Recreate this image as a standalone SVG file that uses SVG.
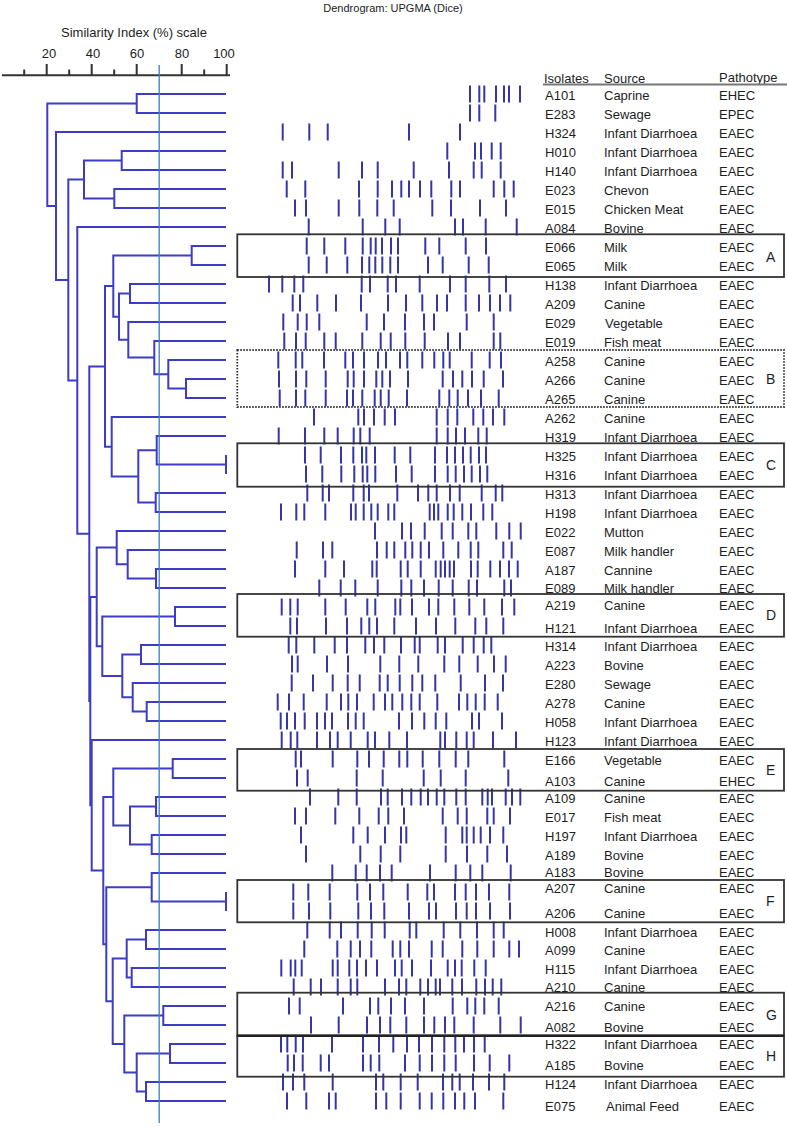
<svg xmlns="http://www.w3.org/2000/svg" width="787" height="1127" viewBox="0 0 787 1127">
<style>
text{font-family:"Liberation Sans",Arial,sans-serif;fill:#1e1e1e}
.t{font-size:13px}
.lb{font-size:14px}
.tr{fill:none;stroke:#3c3cc6;stroke-width:2}
.bd{fill:none;stroke:#3535a8;stroke-width:2}
.ax{fill:none;stroke:#333;stroke-width:2}
.bx{fill:none;stroke:#333;stroke-width:1.8}
</style>
<rect width="787" height="1127" fill="#fff"/>
<text x="393" y="12" font-size="11" text-anchor="middle">Dendrogram: UPGMA (Dice)</text>
<g id="scale">
<text class="t" x="134" y="36.5" text-anchor="middle">Similarity Index (%) scale</text>
<text class="t" x="49" y="58" text-anchor="middle">20</text>
<text class="t" x="93" y="58" text-anchor="middle">40</text>
<text class="t" x="137" y="58" text-anchor="middle">60</text>
<text class="t" x="182" y="58" text-anchor="middle">80</text>
<text class="t" x="224" y="58" text-anchor="middle">100</text>
<path class="ax" d="M2 75.3H230M46.7 64V75M91.7 64V75M136.7 64V75M181.7 64V75M226.7 64V75M24.2 69.5V75M69.2 69.5V75M114.2 69.5V75M204.2 69.5V75"/>
</g>
<g id="connectors">
<path class="tr" d="M226 94H136.7V113H226M226 151H121.7V170H226M226 189H114.3V208H226M121.7 160.5H84V198.5H114.3M226 246H191.7V265H226M226 284H130V303H226M226 379H186V398H226M226 360H168.3V388.5H186M226 341H154.3V374.25H168.3M226 322H128.3V357.6H154.3M130 293.5H119V339.8H128.3M191.7 255.5H113.3V316.7H119"/>
<path class="tr" d="M226 436H156.7V464.5H226M226 455V474M226 493H155.7V512H226M156.7 450.25H138.3V502.5H155.7M226 417H111.7V476.4H138.3M113.3 286.1H105V446.7H111.7"/>
<path class="tr" d="M226 569H156V588H226M226 550H127.7V578.5H156M226 531H116.7V564.25H127.7M226 607H175V626H226M226 645H141V664H226M226 702H146.7V721H226M226 683H132.7V711.5H146.7M141 654.5H122.3V697.25H132.7M175 616.5H102.3V675.9H122.3M116.7 547.6H96.7V646.2H102.3"/>
<path class="tr" d="M226 759H172.7V778H226M226 797H156V816H226M226 835H151.7V854H226M156 806.5H130V844.5H151.7M172.7 768.5H113.3V825.5H130M226 873H151.7V901.5H226M226 892V911M226 930H146V949H226M226 968H131.7V987H226M146 939.5H126.7V977.5H131.7M226 1006H163.3V1025H226M226 1044H170V1063H226M226 1082H146V1101H226M170 1053.5H136.7V1091.5H146M163.3 1015.5H124.3V1072.5H136.7M126.7 958.5H112.7V1044H124.3M151.7 887.25H106.3V1001.25H112.7M113.3 797H103.3V944.25H106.3"/>
<path class="tr" d="M226 740H91.7V870.6H103.3M96.7 596.9H90.3V805.3H91.7M105 366.4H89.3V701.1H90.3M226 227H77.3V533.75H89.3M84 179.5H68.3V380.4H77.3M226 132H56V279.9H68.3M136.7 103.5H47.3V206H56"/>
<path d="M159.2 65V1123" stroke="#3f7cc2" stroke-width="1.3"/>
</g>
<g id="bands">
<path class="bd" transform="translate(0,85.5)" d="M470 0v17M479.3 0v17M484.3 0v17M496 0v17M504 0v17M509 0v17M520 0v17"/>
<path class="bd" transform="translate(0,104.5)" d="M470 0v17M479.3 0v17M495.3 0v17"/>
<path class="bd" transform="translate(0,123.5)" d="M282.7 0v17M309.3 0v17M327.7 0v17M409 0v17M460 0v17"/>
<path class="bd" transform="translate(0,142.5)" d="M447.3 0v17M475 0v17M481 0v17M491.7 0v17M500.7 0v17"/>
<path class="bd" transform="translate(0,161.5)" d="M282.7 0v17M292 0v17M338.7 0v17M362 0v17M377.7 0v17M413.7 0v17M449 0v17M473.7 0v17M481.7 0v17M500.7 0v17"/>
<path class="bd" transform="translate(0,180.5)" d="M286.7 0v17M305.3 0v17M359 0v17M377.7 0v17M392 0v17M401.3 0v17M409 0v17M420 0v17M431.3 0v17M451.3 0v17M460 0v17M493.7 0v17M504.3 0v17M513.7 0v17"/>
<path class="bd" transform="translate(0,199.5)" d="M295 0v17M306 0v17M338.7 0v17M359.3 0v17M377.3 0v17M393.7 0v17M432.3 0v17M451 0v17M480 0v17M506 0v17"/>
<path class="bd" transform="translate(0,218.5)" d="M308.7 0v17M362.7 0v17M385.3 0v17M399.7 0v17M455 0v17M463 0v17M485.7 0v17M516.7 0v17"/>
<path class="bd" transform="translate(0,237.5)" d="M306.7 0v17M324.3 0v17M345.3 0v17M362.7 0v17M370.7 0v17M375.7 0v17M382 0v17M391 0v17M398 0v17M425.3 0v17M439.3 0v17M465.7 0v17M486 0v17"/>
<path class="bd" transform="translate(0,256.5)" d="M308.7 0v17M326.7 0v17M347.3 0v17M362 0v17M369.3 0v17M375.3 0v17M382.3 0v17M390.3 0v17M398 0v17M428 0v17M442.7 0v17M468.7 0v17M488.7 0v17"/>
<path class="bd" transform="translate(0,275.5)" d="M269 0v17M282.3 0v17M294.3 0v17M303.3 0v17M361.7 0v17M370 0v17M387.7 0v17M396 0v17M419.7 0v17M450 0v17M465.7 0v17M489.3 0v17M506 0v17"/>
<path class="bd" transform="translate(0,294.5)" d="M292.7 0v17M300 0v17M317.3 0v17M336 0v17M361 0v17M388 0v17M406 0v17M422.3 0v17M437 0v17M447 0v17M465.7 0v17M479 0v17M490 0v17M500 0v17M510.3 0v17"/>
<path class="bd" transform="translate(0,313.5)" d="M283.3 0v17M297.7 0v17M306.7 0v17M319.3 0v17M366.7 0v17M384 0v17M405 0v17M424 0v17M434 0v17M466.7 0v17M493.7 0v17"/>
<path class="bd" transform="translate(0,332.5)" d="M284.3 0v17M296 0v17M305.7 0v17M324.3 0v17M335.7 0v17M362.3 0v17M380.7 0v17M390.7 0v17M405.3 0v17M424.7 0v17M448 0v17M460 0v17M493.7 0v17M500.3 0v17"/>
<path class="bd" transform="translate(0,351.5)" d="M278.3 0v17M295.7 0v17M302.3 0v17M324 0v17M345.3 0v17M353 0v17M364 0v17M378 0v17M386 0v17M400 0v17M407.3 0v17M422.3 0v17M434.3 0v17M443.3 0v17M449.7 0v17M471.7 0v17M489.7 0v17M501 0v17"/>
<path class="bd" transform="translate(0,370.5)" d="M279 0v17M296 0v17M306.3 0v17M325.7 0v17M347.7 0v17M353.7 0v17M364 0v17M376.3 0v17M382.3 0v17M390 0v17M408 0v17M442.7 0v17M453 0v17M462.3 0v17M472 0v17M483.7 0v17M503 0v17"/>
<path class="bd" transform="translate(0,389.5)" d="M279.7 0v17M296 0v17M305.3 0v17M325.7 0v17M347 0v17M353 0v17M362.3 0v17M374.7 0v17M380.7 0v17M388.7 0v17M407 0v17M439.3 0v17M449.3 0v17M457.7 0v17M468 0v17M481 0v17M498.7 0v17"/>
<path class="bd" transform="translate(0,408.5)" d="M314 0v17M358.3 0v17M364 0v17M374 0v17M384.7 0v17M395 0v17M436.7 0v17M447.7 0v17M457.3 0v17M473.3 0v17M483.3 0v17M493 0v17M504.3 0v17"/>
<path class="bd" transform="translate(0,427.5)" d="M278.7 0v17M305 0v17M324.3 0v17M337.7 0v17M353.7 0v17M360.3 0v17M369.7 0v17M436.7 0v17M447.7 0v17M456 0v17M465 0v17M478.3 0v17M486.7 0v17"/>
<path class="bd" transform="translate(0,446.5)" d="M305 0v17M320.7 0v17M341 0v17M353.3 0v17M362 0v17M366.3 0v17M375 0v17M394.7 0v17M410.3 0v17M435 0v17M447 0v17M455 0v17M463 0v17M470.7 0v17M479 0v17M486 0v17"/>
<path class="bd" transform="translate(0,465.5)" d="M306 0v17M322.3 0v17M341.3 0v17M354.3 0v17M362.7 0v17M367.3 0v17M375.3 0v17M396 0v17M411.7 0v17M435 0v17M447.7 0v17M455.7 0v17M464 0v17M471.7 0v17M480 0v17M487.3 0v17"/>
<path class="bd" transform="translate(0,484.5)" d="M307.3 0v17M322.7 0v17M329 0v17M353.3 0v17M363.7 0v17M369 0v17M397.3 0v17M418 0v17M428.3 0v17M436.7 0v17M450 0v17M459.7 0v17M481.7 0v17M495.7 0v17M502.3 0v17"/>
<path class="bd" transform="translate(0,503.5)" d="M281 0v17M296.3 0v17M304.3 0v17M325.3 0v17M351 0v17M355.7 0v17M363.7 0v17M371.3 0v17M377.7 0v17M388.3 0v17M394.3 0v17M429.7 0v17M434 0v17M438.3 0v17M447.7 0v17M453.7 0v17M462.3 0v17M471 0v17M483.3 0v17M492.3 0v17"/>
<path class="bd" transform="translate(0,522.5)" d="M375 0v17M402 0v17M411 0v17M424.7 0v17M441.7 0v17M452.7 0v17M468.3 0v17M476.3 0v17M496.3 0v17M509.3 0v17M520.7 0v17"/>
<path class="bd" transform="translate(0,541.5)" d="M296.7 0v17M323 0v17M332.3 0v17M377 0v17M386.7 0v17M394.3 0v17M405.3 0v17M412.3 0v17M420.7 0v17M429 0v17M443.3 0v17M458.3 0v17M470.7 0v17M478.3 0v17M503.3 0v17M511.7 0v17"/>
<path class="bd" transform="translate(0,560.5)" d="M295 0v17M325.3 0v17M344 0v17M372.3 0v17M376.7 0v17M400.7 0v17M407.7 0v17M420.7 0v17M435.7 0v17M440.7 0v17M445 0v17M449.7 0v17M454 0v17M471 0v17M477.7 0v17M490.3 0v17M500 0v17M509 0v17M517.7 0v17"/>
<path class="bd" transform="translate(0,579.5)" d="M319.3 0v17M340.7 0v17M355.3 0v17M377.7 0v17M401.3 0v17M411.3 0v17M424 0v17M438.7 0v17M452.7 0v17M468.7 0v17M477 0v17M504.3 0v17M511 0v17"/>
<path class="bd" transform="translate(0,598.5)" d="M281.7 0v17M290.3 0v17M297.7 0v17M325.3 0v17M345.7 0v17M367.3 0v17M375.3 0v17M395.3 0v17M400.3 0v17M412 0v17M429 0v17M438.3 0v17M454.3 0v17M469.3 0v17M484.3 0v17M502 0v17M514.3 0v17"/>
<path class="bd" transform="translate(0,617.5)" d="M290.3 0v17M297 0v17M326 0v17M347 0v17M361.3 0v17M369.3 0v17M377 0v17M394.3 0v17M416 0v17M436 0v17M455.3 0v17M475.3 0v17M486.3 0v17M503.3 0v17"/>
<path class="bd" transform="translate(0,636.5)" d="M288.7 0v17M296.3 0v17M314.3 0v17M334.7 0v17M347 0v17M365.3 0v17M374 0v17M384.3 0v17M401 0v17M414.7 0v17M419.7 0v17M437.7 0v17M445 0v17M462.7 0v17M473.7 0v17M483.7 0v17M491.3 0v17"/>
<path class="bd" transform="translate(0,655.5)" d="M292 0v17M297.7 0v17M327 0v17M348 0v17M380.3 0v17M399.3 0v17M418.3 0v17M444.3 0v17M459.3 0v17M477.7 0v17M494 0v17M505.7 0v17"/>
<path class="bd" transform="translate(0,674.5)" d="M291.7 0v17M313 0v17M332.7 0v17M347.7 0v17M359.7 0v17M379.7 0v17M387.7 0v17M399.7 0v17M412.3 0v17M422.3 0v17M435.3 0v17M460.7 0v17M485 0v17M503 0v17"/>
<path class="bd" transform="translate(0,693.5)" d="M277.7 0v17M289 0v17M303.7 0v17M326.7 0v17M341 0v17M348.3 0v17M357 0v17M373.7 0v17M385 0v17M392.3 0v17M402.3 0v17M411.3 0v17M419.7 0v17M437.3 0v17M459 0v17M467.3 0v17M475.7 0v17M484.7 0v17M497.7 0v17"/>
<path class="bd" transform="translate(0,712.5)" d="M280.7 0v17M287 0v17M295 0v17M304.7 0v17M317 0v17M325 0v17M332 0v17M348 0v17M355.7 0v17M363.7 0v17M399 0v17M412 0v17M424.3 0v17M435.7 0v17M446.3 0v17M472 0v17M479 0v17M502 0v17"/>
<path class="bd" transform="translate(0,731.5)" d="M281.7 0v17M290.7 0v17M297.3 0v17M317 0v17M330 0v17M337.7 0v17M350.7 0v17M367.7 0v17M375 0v17M389.3 0v17M407 0v17M440.3 0v17M445 0v17M456.3 0v17M466.7 0v17M473.7 0v17M493 0v17M516 0v17"/>
<path class="bd" transform="translate(0,750.5)" d="M295.7 0v17M301 0v17M332.7 0v17M357.3 0v17M369 0v17M383.7 0v17M399.3 0v17M407.3 0v17M422.7 0v17M439.3 0v17M455.7 0v17M468.3 0v17M504.3 0v17"/>
<path class="bd" transform="translate(0,769.5)" d="M297 0v17M307.7 0v17M356.7 0v17M382.7 0v17M423.7 0v17M440.7 0v17M465.7 0v17M508.3 0v17"/>
<path class="bd" transform="translate(0,788.5)" d="M310 0v17M338.3 0v17M356.7 0v17M381 0v17M387.7 0v17M402 0v17M411.3 0v17M420.7 0v17M428 0v17M436.7 0v17M444.3 0v17M456.3 0v17M465.7 0v17M482.3 0v17M487.7 0v17M492 0v17M505.7 0v17M512 0v17M520.3 0v17"/>
<path class="bd" transform="translate(0,807.5)" d="M295 0v17M306 0v17M335.3 0v17M359.3 0v17M378.7 0v17M388.3 0v17M404 0v17M442.7 0v17M457.7 0v17M466.7 0v17M487.3 0v17M493.7 0v17M510 0v17"/>
<path class="bd" transform="translate(0,826.5)" d="M301 0v17M353.3 0v17M367.7 0v17M385 0v17M401 0v17M406.3 0v17M445.7 0v17M462.3 0v17M466.7 0v17M473.7 0v17M480.7 0v17M490 0v17M503.3 0v17"/>
<path class="bd" transform="translate(0,845.5)" d="M306 0v17M360.3 0v17M380.7 0v17M400.3 0v17M445.7 0v17M467 0v17M487.3 0v17M507 0v17"/>
<path class="bd" transform="translate(0,864.5)" d="M332.3 0v17M355.7 0v17M366.7 0v17M380 0v17M391.7 0v17M430 0v17M455.7 0v17M470.3 0v17M482.3 0v17M510.7 0v17"/>
<path class="bd" transform="translate(0,883.5)" d="M293.3 0v17M308.3 0v17M329.7 0v17M357.3 0v17M370 0v17M383.3 0v17M407.7 0v17M427.3 0v17M434 0v17M455 0v17M465.7 0v17M476 0v17M489 0v17M509.3 0v17"/>
<path class="bd" transform="translate(0,902.5)" d="M293.3 0v17M309 0v17M330.3 0v17M358.3 0v17M371 0v17M384.3 0v17M409 0v17M429 0v17M436 0v17M456 0v17M466.7 0v17M476 0v17M490 0v17M510 0v17"/>
<path class="bd" transform="translate(0,921.5)" d="M307.3 0v17M329.7 0v17M341 0v17M357.7 0v17M371.7 0v17M384.7 0v17M409.7 0v17M416.3 0v17M443.7 0v17M460.3 0v17M477 0v17M493.7 0v17M503.7 0v17"/>
<path class="bd" transform="translate(0,940.5)" d="M304.3 0v17M337.3 0v17M350.7 0v17M360 0v17M371.3 0v17M392.7 0v17M400.3 0v17M409 0v17M431.7 0v17M442.7 0v17M462.3 0v17M477.3 0v17M493.7 0v17M509.3 0v17M519 0v17"/>
<path class="bd" transform="translate(0,959.5)" d="M281.3 0v17M290.7 0v17M295.3 0v17M301.7 0v17M332.7 0v17M337.7 0v17M349.3 0v17M357 0v17M366 0v17M377 0v17M395 0v17M401.7 0v17M412 0v17M431 0v17M447.7 0v17M455 0v17M461.7 0v17M474.3 0v17M485.7 0v17"/>
<path class="bd" transform="translate(0,978.5)" d="M293.7 0v17M310.7 0v17M321 0v17M337.7 0v17M350.7 0v17M357.3 0v17M385 0v17M399 0v17M406.3 0v17M420.3 0v17M428 0v17M435.7 0v17M440 0v17M452.3 0v17M462 0v17M476.3 0v17M485 0v17M492.7 0v17M501.3 0v17"/>
<path class="bd" transform="translate(0,997.5)" d="M289 0v17M299.7 0v17M343 0v17M370 0v17M378.3 0v17M391 0v17M405 0v17M424 0v17M452.7 0v17M467.3 0v17M475.3 0v17M484.3 0v17M498.7 0v17"/>
<path class="bd" transform="translate(0,1016.5)" d="M311 0v17M338.7 0v17M367 0v17M380 0v17M390.3 0v17M406.3 0v17M424 0v17M434.3 0v17M445 0v17M454.3 0v17M473.7 0v17M500.3 0v17M520.7 0v17"/>
<path class="bd" transform="translate(0,1035.5)" d="M281 0v17M287.3 0v17M295.7 0v17M303 0v17M332 0v17M363 0v17M379 0v17M393.3 0v17M407 0v17M419 0v17M432 0v17M444.3 0v17M455.3 0v17M464 0v17M474 0v17M484.7 0v17"/>
<path class="bd" transform="translate(0,1054.5)" d="M287.7 0v17M294 0v17M302.7 0v17M320.7 0v17M329 0v17M363 0v17M370.7 0v17M379.3 0v17M405 0v17M419.7 0v17M432 0v17M444.3 0v17M455.7 0v17M474 0v17M489.7 0v17M509.3 0v17"/>
<path class="bd" transform="translate(0,1073.5)" d="M283 0v17M293 0v17M304.3 0v17M332.7 0v17M376 0v17M383.3 0v17M400.7 0v17M417.7 0v17M443 0v17M452.3 0v17M459.7 0v17M473 0v17M489 0v17M504.3 0v17"/>
<path class="bd" transform="translate(0,1092.5)" d="M287 0v17M306.3 0v17M329 0v17M335.7 0v17M376 0v17M386.3 0v17M400.7 0v17M419.7 0v17M431.7 0v17M443.3 0v17M455 0v17M464.3 0v17M475 0v17M503.3 0v17"/>
</g>
<g id="table">
<text class="t" x="544" y="82.7">Isolates</text>
<text class="t" x="604" y="82.7">Source</text>
<text class="t" x="719" y="81.5">Pathotype</text>
<path d="M543 84.5H787" stroke="#777" stroke-width="2"/>
<g class="t">
<text x="545" y="99.5">A101</text><text x="604" y="99.5">Caprine</text><text x="719" y="99.5">EHEC</text>
<text x="545" y="118.5">E283</text><text x="604" y="118.5">Sewage</text><text x="719" y="118.5">EPEC</text>
<text x="545" y="137.5">H324</text><text x="604" y="137.5">Infant Diarrhoea</text><text x="719" y="137.5">EAEC</text>
<text x="545" y="156.5">H010</text><text x="604" y="156.5">Infant Diarrhoea</text><text x="719" y="156.5">EAEC</text>
<text x="545" y="175.5">H140</text><text x="604" y="175.5">Infant Diarrhoea</text><text x="719" y="175.5">EAEC</text>
<text x="545" y="194.5">E023</text><text x="604" y="194.5">Chevon</text><text x="719" y="194.5">EAEC</text>
<text x="545" y="213.5">E015</text><text x="604" y="213.5">Chicken Meat</text><text x="719" y="213.5">EAEC</text>
<text x="545" y="232.5">A084</text><text x="604" y="232.5">Bovine</text><text x="719" y="232.5">EAEC</text>
<text x="545" y="251.5">E066</text><text x="604" y="251.5">Milk</text><text x="719" y="251.5">EAEC</text>
<text x="545" y="270.5">E065</text><text x="604" y="270.5">Milk</text><text x="719" y="270.5">EAEC</text>
<text x="545" y="289.5">H138</text><text x="604" y="289.5">Infant Diarrhoea</text><text x="719" y="289.5">EAEC</text>
<text x="545" y="308.5">A209</text><text x="604" y="308.5">Canine</text><text x="719" y="308.5">EAEC</text>
<text x="545" y="327.5">E029</text><text x="605" y="327.5">Vegetable</text><text x="719" y="327.5">EAEC</text>
<text x="545" y="346.5">E019</text><text x="604" y="346.5">Fish meat</text><text x="719" y="346.5">EAEC</text>
<text x="545" y="365.5">A258</text><text x="604" y="365.5">Canine</text><text x="719" y="365.5">EAEC</text>
<text x="545" y="384.5">A266</text><text x="604" y="384.5">Canine</text><text x="719" y="384.5">EAEC</text>
<text x="545" y="403.5">A265</text><text x="604" y="403.5">Canine</text><text x="719" y="403.5">EAEC</text>
<text x="545" y="422.5">A262</text><text x="604" y="422.5">Canine</text><text x="719" y="422.5">EAEC</text>
<text x="545" y="441.5">H319</text><text x="604" y="441.5">Infant Diarrhoea</text><text x="719" y="441.5">EAEC</text>
<text x="545" y="460.5">H325</text><text x="604" y="460.5">Infant Diarrhoea</text><text x="719" y="460.5">EAEC</text>
<text x="545" y="479.5">H316</text><text x="604" y="479.5">Infant Diarrhoea</text><text x="719" y="479.5">EAEC</text>
<text x="545" y="498.5">H313</text><text x="604" y="498.5">Infant Diarrhoea</text><text x="719" y="498.5">EAEC</text>
<text x="545" y="517.5">H198</text><text x="604" y="517.5">Infant Diarrhoea</text><text x="719" y="517.5">EAEC</text>
<text x="545" y="536.5">E022</text><text x="604" y="536.5">Mutton</text><text x="719" y="536.5">EAEC</text>
<text x="545" y="555.5">E087</text><text x="604" y="555.5">Milk handler</text><text x="719" y="555.5">EAEC</text>
<text x="545" y="574.5">A187</text><text x="604" y="574.5">Cannine</text><text x="719" y="574.5">EAEC</text>
<text x="545" y="592.5">E089</text><text x="604" y="592.5">Milk handler</text><text x="719" y="592.5">EAEC</text>
<text x="545" y="609.5">A219</text><text x="604" y="609.5">Canine</text><text x="719" y="609.5">EAEC</text>
<text x="545" y="633">H121</text><text x="604" y="633">Infant Diarrhoea</text><text x="719" y="633">EAEC</text>
<text x="545" y="650.5">H314</text><text x="604" y="650.5">Infant Diarrhoea</text><text x="719" y="650.5">EAEC</text>
<text x="545" y="669.5">A223</text><text x="604" y="669.5">Bovine</text><text x="719" y="669.5">EAEC</text>
<text x="545" y="688.5">E280</text><text x="604" y="688.5">Sewage</text><text x="719" y="688.5">EAEC</text>
<text x="545" y="707.5">A278</text><text x="604" y="707.5">Canine</text><text x="719" y="707.5">EAEC</text>
<text x="545" y="726.5">H058</text><text x="604" y="726.5">Infant Diarrhoea</text><text x="719" y="726.5">EAEC</text>
<text x="545" y="745.5">H123</text><text x="604" y="745.5">Infant Diarrhoea</text><text x="719" y="745.5">EAEC</text>
<text x="545" y="765">E166</text><text x="604" y="765">Vegetable</text><text x="719" y="765">EAEC</text>
<text x="545" y="786">A103</text><text x="604" y="786">Canine</text><text x="719" y="786">EHEC</text>
<text x="545" y="803">A109</text><text x="604" y="803">Canine</text><text x="719" y="803">EAEC</text>
<text x="545" y="822">E017</text><text x="604" y="822">Fish meat</text><text x="719" y="822">EAEC</text>
<text x="545" y="841">H197</text><text x="604" y="841">Infant Diarrhoea</text><text x="719" y="841">EAEC</text>
<text x="545" y="860">A189</text><text x="604" y="860">Bovine</text><text x="719" y="860">EAEC</text>
<text x="545" y="877">A183</text><text x="604" y="877">Bovine</text><text x="719" y="877">EAEC</text>
<text x="545" y="893">A207</text><text x="604" y="893">Canine</text><text x="719" y="893">EAEC</text>
<text x="545" y="918">A206</text><text x="604" y="918">Canine</text><text x="719" y="918">EAEC</text>
<text x="545" y="937">H008</text><text x="604" y="937">Infant Diarrhoea</text><text x="719" y="937">EAEC</text>
<text x="545" y="955">A099</text><text x="604" y="955">Canine</text><text x="719" y="955">EAEC</text>
<text x="545" y="974">H115</text><text x="604" y="974">Infant Diarrhoea</text><text x="719" y="974">EAEC</text>
<text x="545" y="992">A210</text><text x="604" y="992">Canine</text><text x="719" y="992">EAEC</text>
<text x="545" y="1011">A216</text><text x="604" y="1011">Canine</text><text x="719" y="1011">EAEC</text>
<text x="545" y="1032">A082</text><text x="604" y="1032">Bovine</text><text x="719" y="1032">EAEC</text>
<text x="545" y="1049">H322</text><text x="604" y="1049">Infant Diarrhoea</text><text x="719" y="1049">EAEC</text>
<text x="545" y="1070">A185</text><text x="604" y="1070">Bovine</text><text x="719" y="1070">EAEC</text>
<text x="545" y="1089">H124</text><text x="604" y="1089">Infant Diarrhoea</text><text x="719" y="1089">EAEC</text>
<text x="545" y="1111">E075</text><text x="606" y="1111">Animal Feed</text><text x="719" y="1111">EAEC</text>
</g>
</g>
<g id="groupA"><rect class="bx" x="237.3" y="234.3" width="546.7" height="42.7"/><text class="lb" x="766" y="262">A</text></g>
<g id="groupB"><rect class="bx" x="237.3" y="350" width="546.7" height="57" stroke-dasharray="1.5 1.5" stroke-width="2"/><text class="lb" x="766" y="384">B</text></g>
<g id="groupC"><rect class="bx" x="237.3" y="443.3" width="546.7" height="43.4"/><text class="lb" x="766" y="470">C</text></g>
<g id="groupD"><rect class="bx" x="237.3" y="594" width="546.7" height="42.7"/><text class="lb" x="766" y="620">D</text></g>
<g id="groupE"><rect class="bx" x="237.3" y="749" width="546.7" height="41.7"/><text class="lb" x="766" y="775">E</text></g>
<g id="groupF"><rect class="bx" x="237.3" y="880" width="546.7" height="42.3"/><text class="lb" x="766" y="906">F</text></g>
<g id="groupG"><rect class="bx" x="237.3" y="992.7" width="546.7" height="43"/><text class="lb" x="766" y="1020">G</text></g>
<g id="groupH"><rect class="bx" x="237.3" y="1035.7" width="546.7" height="41"/><path d="M237.3 1035.7H784" stroke="#222" stroke-width="2.6"/><text class="lb" x="766" y="1061">H</text></g>
</svg>
